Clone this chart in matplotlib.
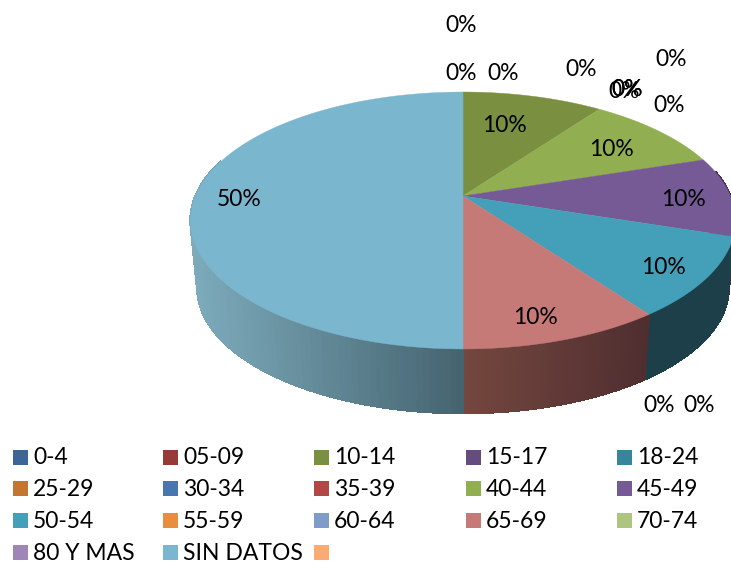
import numpy as np
import matplotlib
matplotlib.use("Agg")
import matplotlib.pyplot as plt
from matplotlib.colors import to_rgb

plt.rcParams['font.family'] = ['Lato', 'DejaVu Sans']

categories = ["0-4", "05-09", "10-14", "15-17", "18-24",
              "25-29", "30-34", "35-39", "40-44", "45-49",
              "50-54", "55-59", "60-64", "65-69", "70-74",
              "80 Y MAS", "SIN DATOS", ""]
values = [0, 0, 10, 0, 0,
          0, 0, 0, 10, 10,
          10, 0, 0, 10, 0,
          0, 50, 0]
colors = ["#3d6596", "#963a38", "#7a9040", "#644d7e", "#35869b",
          "#c4752f", "#4a76b0", "#b24846", "#91ae51", "#755a95",
          "#43a0b8", "#e88f3e", "#7f9bc8", "#c67a78", "#adc57f",
          "#9e87b7", "#7ab7ce", "#f9ab73"]
# label centres in pixels, same order as categories
label_xy = [(461, 26), (461, 73), (504, 125), (503, 73), (581, 69),
            (671, 59), (624, 92), (627, 89), (611, 149), (683, 199),
            (663, 267), (659, 405), (699, 406), (535, 317), (669, 105),
            (627, 89), (239, 199), None]

fig = plt.figure(figsize=(7.31, 5.62), dpi=100)
ax = fig.add_axes([0, 0, 1, 1])
ax.set_xlim(0, 731)
ax.set_ylim(562, 0)
ax.axis("off")

CX = 463
K = 0.1907


def project(ang, scale, y0):
    # ang is clockwise from 12 o'clock, perspective squeezes the far side
    x = np.sin(ang)
    y = np.cos(ang)
    w = 1 + K * y
    return CX + 267.5 * scale * x / w, y0 - 123.8 * scale * y / w


def shade(name, t):
    if name == "SIN DATOS":
        a, b = "#7dabbc", "#45636f"
    elif name == "65-69":
        a, b = "#74473f", "#4f2e30"
    elif name == "50-54":
        a, b = "#1c3f4a", "#1c3f4a"
    else:
        a, b = "#3c2e50", "#3c2e50"
    return np.array(to_rgb(a)) * (1 - t) + np.array(to_rgb(b)) * t


total = sum(values)
starts = np.cumsum([0] + values[:-1]) / total * 2 * np.pi
ends = np.cumsum(values) / total * 2 * np.pi

# sides first, strips without antialias so no seams show
for name, v, a0, a1 in zip(categories, values, starts, ends):
    if v == 0:
        continue
    lo = max(a0, np.pi / 2 - 0.2)
    hi = min(a1, 3 * np.pi / 2 + 0.3)
    if lo >= hi:
        continue
    grid = np.linspace(lo, hi, 90)
    for g0, g1 in zip(grid[:-1], grid[1:]):
        tx0, ty0 = project(np.array([g0, g1]), 1, 196)
        bx0, by0 = project(np.array([g1, g0]), 0.975, 264)
        mid = project((g0 + g1) / 2, 1, 196)[0]
        if name == "SIN DATOS":
            t = (mid - 190) / (463 - 190)
        elif name == "65-69":
            t = (463 - mid) / (463 - 648)
        else:
            t = 0
        c = shade(name, np.clip(t, 0, 1))
        ax.fill(np.r_[tx0, bx0], np.r_[ty0, by0], color=c, lw=1.0, antialiased=False)

# top face
for name, v, c, a0, a1 in zip(categories, values, colors, starts, ends):
    if v == 0:
        continue
    ang = np.linspace(a0, a1, 120)
    px, py = project(ang, 1, 196)
    ax.fill(np.r_[CX, px], np.r_[196, py], color=c, lw=0.3)

for v, xy in zip(values, label_xy):
    if xy is None:
        continue
    ax.text(xy[0], xy[1], f"{v / total * 100:.0f}%", fontsize=16.5, color="black",
            ha="center", va="center")

# legend, filled row by row
leg_x = [13, 163, 314, 466, 617]
leg_y = [457, 488, 520, 552]
for i, (name, c) in enumerate(zip(categories, colors)):
    x = leg_x[i % 5]
    y = leg_y[i // 5]
    ax.fill([x, x + 15, x + 15, x], [y - 7.5, y - 7.5, y + 7.5, y + 7.5], color=c, lw=0)
    ax.text(x + 20, y + 1, name, fontsize=16.5, color="black", ha="left", va="center")

fig.savefig("out.png", dpi=100)
